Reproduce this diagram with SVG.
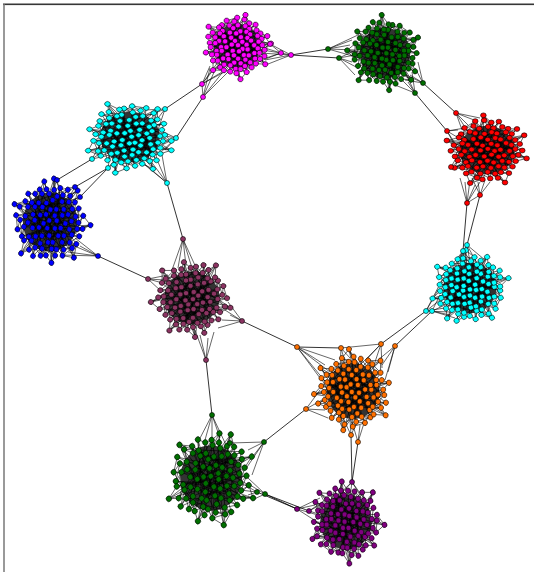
<svg xmlns="http://www.w3.org/2000/svg" xmlns:xlink="http://www.w3.org/1999/xlink" width="534" height="572" viewBox="0 0 534 572">
<style>
.nd circle{r:var(--r,2.5px);stroke:#000;stroke-width:0.6;vector-effect:non-scaling-stroke}
.ie{fill:none;stroke:#000;stroke-width:0.6;vector-effect:non-scaling-stroke}
.dk{fill:#333}
.bn{stroke:#000;stroke-width:0.6}
.ce{fill:none;stroke:#000;stroke-width:0.8}
.fan{fill:none;stroke:#000;stroke-width:0.6}
</style>
<defs>
<g id="blob">
<circle class="dk" r="23"/>
<path class="ie" d="M-9.8,-27.5 L11.2,-0.3 -27,17 15.7,-16.9 -3.8,28 -27.6,-4.6 17.6,-20.2 0.4,10.2 -30.2,0.8 25,-20 -8.6,16.8 9.9,-27 -14.6,6.5 31,-14 -12.9,20.8 -5.2,-12 33,8 -11.2,-22.8 9.6,15.5 -26.7,6.2 -2.1,-15.4 9.1,26.6 -23.5,-0.9 18.8,-11.6 6.8,22.6 -14.3,-17.3 26.2,4.7 -8.4,-6 15,31 -23.4,-11.9 18.2,11.3 3.6,-26.2 -5.4,0.4 21.3,15.8 -33.5,-9 15.9,-6.6 -8.3,26.4 0.9,-22.1 21.5,6 -20.5,-6.3 -20.5,16.9 11.3,-10.1 -3,-33 -2.3,6.1 -21.6,-15.1 18.3,22 8.6,-4.5 -17.5,11.7 -2.4,-28.3 29.4,0.5 -11.4,-10.5 3.2,17.1 6.3,1 -14,31.5 12.8,-21.9 -12.8,-0.5 23.9,10.6 3.9,-17 -21.4,4.6 5.5,11.9 20.6,-15.3 -17.4,22.3 3.5,-5.9 -24.3,10 -18.7,-21 9.7,6.4 20.4,-4.8 -5.8,11.5 -9.8,-16 0.6,21 23.6,-1 -15.8,-4.9 2.7,27.1 6.9,-11.4 -3.4,15.6 -18.9,-9.7 14.4,5.1 5.4,-20.8 0.7,-1.1 14.5,16.7 23.5,-9.5 -9.5,4.8 -6.5,-20.4 12.7,10.4 -18.6,1.2 8.2,-15.8 11.6,21.2 -3.7,-4.2 -12.6,9.9 27.3,-5.7 M-9.8,-27.5 L-6.5,-20.4 -2.4,-28.3 0.9,-22.1 3.6,-26.2 5.4,-20.8 9.9,-27 12.8,-21.9 17.6,-20.2 15.7,-16.9 20.6,-15.3 18.8,-11.6 23.5,-9.5 20.4,-4.8 27.3,-5.7 23.6,-1 29.4,0.5 21.5,6 26.2,4.7 18.2,11.3 23.9,10.6 14.5,16.7 21.3,15.8 11.6,21.2 18.3,22 6.8,22.6 9.1,26.6 0.6,21 2.7,27.1 -5.5,22.5 -3.8,28 -12.9,20.8 -8.3,26.4 -17.4,22.3 -15.8,15.4 -20.5,16.9 -17.5,11.7 -24.3,10 -21.4,4.6 -26.7,6.2 -23.5,-0.9 -30.2,0.8 -20.5,-6.3 -27.6,-4.6 -18.9,-9.7 -23.4,-11.9 -14.3,-17.3 -21.6,-15.1 -11.2,-22.8 -18.7,-21 -9.8,-27.5 M-3,-33 L-2.4,-28.3 M-3,-33 L3.6,-26.2 M-3,-33 L-6.5,-20.4 M25,-20 L17.6,-20.2 M25,-20 L20.6,-15.3 M31,-14 L23.5,-9.5 M31,-14 L27.3,-5.7 M31,-14 L18.8,-11.6 M33,8 L26.2,4.7 M33,8 L23.9,10.6 M33,8 L21.5,6 M15,31 L9.1,26.6 M15,31 L18.3,22 M15,31 L6.8,22.6 M-14,31.5 L-8.3,26.4 M-14,31.5 L-3.8,28 M-14,31.5 L-17.4,22.3 M-27,17 L-20.5,16.9 M-27,17 L-24.3,10 M-27,17 L-17.5,11.7 M-33.5,-9 L-27.6,-4.6 M-33.5,-9 L-23.4,-11.9 M-33.5,-9 L-20.5,-6.3"/>
<g class="nd">
<circle cx="-9.8" cy="-27.5"/><circle cx="-2.4" cy="-28.3"/><circle cx="3.6" cy="-26.2"/><circle cx="9.9" cy="-27"/>
<circle cx="-18.7" cy="-21"/><circle cx="-11.2" cy="-22.8"/><circle cx="-6.5" cy="-20.4"/><circle cx="0.9" cy="-22.1"/><circle cx="5.4" cy="-20.8"/><circle cx="12.8" cy="-21.9"/><circle cx="17.6" cy="-20.2"/>
<circle cx="-21.6" cy="-15.1"/><circle cx="-14.3" cy="-17.3"/><circle cx="-9.8" cy="-16"/><circle cx="-2.1" cy="-15.4"/><circle cx="3.9" cy="-17"/><circle cx="8.2" cy="-15.8"/><circle cx="15.7" cy="-16.9"/><circle cx="20.6" cy="-15.3"/>
<circle cx="-23.4" cy="-11.9"/><circle cx="-18.9" cy="-9.7"/><circle cx="-11.4" cy="-10.5"/><circle cx="-5.2" cy="-12"/><circle cx="0.6" cy="-9.9"/><circle cx="6.9" cy="-11.4"/><circle cx="11.3" cy="-10.1"/><circle cx="18.8" cy="-11.6"/><circle cx="23.5" cy="-9.5"/>
<circle cx="-27.6" cy="-4.6"/><circle cx="-20.5" cy="-6.3"/><circle cx="-15.8" cy="-4.9"/><circle cx="-8.4" cy="-6"/><circle cx="-3.7" cy="-4.2"/><circle cx="3.5" cy="-5.9"/><circle cx="8.6" cy="-4.5"/><circle cx="15.9" cy="-6.6"/><circle cx="20.4" cy="-4.8"/><circle cx="27.3" cy="-5.7"/>
<circle cx="-30.2" cy="0.8"/><circle cx="-23.5" cy="-0.9"/><circle cx="-18.6" cy="1.2"/><circle cx="-12.8" cy="-0.5"/><circle cx="-5.4" cy="0.4"/><circle cx="0.7" cy="-1.1"/><circle cx="6.3" cy="1"/><circle cx="11.2" cy="-0.3"/><circle cx="18.9" cy="0.9"/><circle cx="23.6" cy="-1"/><circle cx="29.4" cy="0.5"/>
<circle cx="-26.7" cy="6.2"/><circle cx="-21.4" cy="4.6"/><circle cx="-14.6" cy="6.5"/><circle cx="-9.5" cy="4.8"/><circle cx="-2.3" cy="6.1"/><circle cx="3.8" cy="4.4"/><circle cx="9.7" cy="6.4"/><circle cx="14.4" cy="5.1"/><circle cx="21.5" cy="6"/><circle cx="26.2" cy="4.7"/>
<circle cx="-24.3" cy="10"/><circle cx="-17.5" cy="11.7"/><circle cx="-12.6" cy="9.9"/><circle cx="-5.8" cy="11.5"/><circle cx="0.4" cy="10.2"/><circle cx="5.5" cy="11.9"/><circle cx="12.7" cy="10.4"/><circle cx="18.2" cy="11.3"/><circle cx="23.9" cy="10.6"/>
<circle cx="-20.5" cy="16.9"/><circle cx="-15.8" cy="15.4"/><circle cx="-8.6" cy="16.8"/><circle cx="-3.4" cy="15.6"/><circle cx="3.2" cy="17.1"/><circle cx="9.6" cy="15.5"/><circle cx="14.5" cy="16.7"/><circle cx="21.3" cy="15.8"/>
<circle cx="-17.4" cy="22.3"/><circle cx="-12.9" cy="20.8"/><circle cx="-5.5" cy="22.5"/><circle cx="0.6" cy="21"/><circle cx="6.8" cy="22.6"/><circle cx="11.6" cy="21.2"/><circle cx="18.3" cy="22"/>
<circle cx="-8.3" cy="26.4"/><circle cx="-3.8" cy="28"/><circle cx="2.7" cy="27.1"/><circle cx="9.1" cy="26.6"/>
<circle cx="-33.5" cy="-9"/><circle cx="33" cy="8"/><circle cx="-14" cy="31.5"/><circle cx="25" cy="-20"/><circle cx="-27" cy="17"/><circle cx="15" cy="31"/><circle cx="-3" cy="-33"/><circle cx="31" cy="-14"/>
</g>
</g>
</defs>
<rect width="534" height="572" fill="#fff"/>
<path d="M3,3.5 H534" stroke="#999" stroke-width="1"/>
<path d="M3,4.6 H534" stroke="#222" stroke-width="1"/>
<path d="M4,4 V572" stroke="#777" stroke-width="1.5"/>

<g id="connectors">
<path class="ce" d="M291,55 L328,49 M291,55 L339,58 M202,84 L165,109 M203,97 L176,138 M423,83 L456,113 M415,93 L447,131 M467,203 L463,251 M480,195 L467,245 M426,311 L381,344 M432,311 L395,346 M242,321 L297,347 M297,347 L341,348 M306,409 L264,442 M351,435 L352,482 M358,442 L352,482 M257,492 L297,509 M265,494 L297,509 M265,494 L309,511 M206,360 L212,415 M167,183 L183,239 M148,279 L98,256 M57,180 L92,159 M75,187 L108,168 M80,197 L108,168"/>
<path class="fan" d="M270,44 L258,40 M270,44 L262,50 M270,44 L255,55 M270,44 L264,35 M281,53 L262,50 M281,53 L266,58 M281,53 L258,62 M281,53 L255,45 M281,53 L270,44 M291,55 L265,60 M291,55 L260,53 M291,55 L270,44 M291,55 L281,53 M291,55 L263,66 M202,84 L215,68 M202,84 L222,72 M202,84 L210,66 M202,84 L228,70 M202,84 L218,62 M203,97 L215,70 M203,97 L222,73 M203,97 L230,70 M203,97 L210,68 M203,97 L202,84"/>
<path class="fan" d="M328,49 L352,40 M328,49 L355,50 M328,49 L358,35 M328,49 L350,45 M328,49 L360,58 M339,58 L355,55 M339,58 L352,62 M339,58 L358,68 M339,58 L360,48 M339,58 L355,75 M415,93 L400,78 M415,93 L408,82 M415,93 L395,85 M415,93 L412,72 M415,93 L404,70 M423,83 L410,75 M423,83 L415,68 M423,83 L405,80 M423,83 L418,62 M423,83 L400,72"/>
<path class="fan" d="M456,113 L468,125 M456,113 L474,120 M456,113 L462,130 M456,113 L480,118 M456,113 L470,135 M447,131 L458,130 M447,131 L462,140 M447,131 L456,145 M447,131 L465,128 M447,131 L460,155 M451,167 L460,160 M451,167 L465,165 M451,167 L458,155 M451,167 L470,170 M467,203 L470,180 M467,203 L475,185 M467,203 L465,182 M467,203 L480,182 M467,203 L460,178 M480,195 L485,180 M480,195 L478,182 M480,195 L490,182 M480,195 L472,178 M480,195 L467,203"/>
<path class="fan" d="M467,245 L470,262 M467,245 L460,262 M467,245 L478,265 M467,245 L455,268 M467,245 L485,260 M463,251 L455,265 M463,251 L465,268 M463,251 L448,270 M463,251 L472,262 M426,311 L440,300 M426,311 L445,308 M426,311 L438,290 M426,311 L450,312 M426,311 L442,280 M432,311 L445,305 M432,311 L450,315 M432,311 L440,295 M432,311 L455,318"/>
<path class="fan" d="M297,347 L325,365 M297,347 L330,372 M297,347 L320,378 M297,347 L335,360 M297,347 L328,385 M341,348 L345,362 M341,348 L340,370 M341,348 L350,358 M381,344 L375,362 M381,344 L368,358 M381,344 L382,368 M381,344 L360,365 M381,344 L341,348 M395,346 L382,365 M395,346 L378,360 M395,346 L388,372 M395,346 L385,380 M306,409 L322,400 M306,409 L325,410 M306,409 L320,390 M306,409 L328,418 M351,435 L350,420 M351,435 L343,418 M351,435 L357,422 M358,442 L360,425 M358,442 L352,422 M358,442 L365,420"/>
<path class="fan" d="M352,482 L340,495 M352,482 L350,497 M352,482 L360,495 M352,482 L333,500 M352,482 L365,500 M297,509 L315,505 M297,509 L318,515 M297,509 L320,498 M297,509 L322,525 M309,511 L320,505 M309,511 L322,515 M309,511 L325,500"/>
<path class="fan" d="M212,415 L205,440 M212,415 L212,442 M212,415 L220,438 M212,415 L198,442 M212,415 L226,445 M264,442 L248,450 M264,442 L250,460 M264,442 L245,470 M264,442 L230,443 M264,442 L252,475 M257,492 L245,485 M257,492 L248,495 M257,492 L240,490 M265,494 L250,485 M265,494 L248,478 M265,494 L252,500"/>
<path class="fan" d="M183,239 L178,268 M183,239 L186,266 M183,239 L192,268 M183,239 L198,272 M183,239 L172,270 M148,279 L165,280 M148,279 L170,285 M148,279 L162,292 M148,279 L168,275 M242,321 L225,310 M242,321 L222,320 M242,321 L228,302 M242,321 L218,328 M242,321 L230,315 M206,360 L200,335 M206,360 L208,338 M206,360 L214,332 M206,360 L195,330"/>
<path class="fan" d="M75,187 L62,195 M75,187 L66,202 M75,187 L58,190 M80,197 L66,202 M80,197 L70,208 M80,197 L62,205 M57,180 L52,192 M57,180 L60,195 M98,256 L72,245 M98,256 L68,252 M98,256 L75,238 M98,256 L60,255 M98,256 L80,246"/>
<path class="fan" d="M165,109 L150,115 M165,109 L155,122 M165,109 L145,110 M165,109 L158,130 M176,138 L160,135 M176,138 L162,145 M176,138 L155,128 M176,138 L165,150 M176,138 L158,155 M167,183 L150,160 M167,183 L158,162 M167,183 L145,165 M167,183 L162,155 M167,183 L140,160 M92,159 L105,150 M92,159 L110,155 M92,159 L100,145 M108,168 L115,160 M108,168 L120,158 M108,168 L110,155"/>
</g>

<g id="cluster-magenta" fill="#ff00ff">
<use xlink:href="#blob" transform="translate(237 46) scale(1 0.97) rotate(20)" style="--r:2.64px"/>
<circle class="bn" cx="270" cy="44" r="2.5"/><circle class="bn" cx="281" cy="53" r="2.5"/><circle class="bn" cx="291" cy="55" r="2.5"/><circle class="bn" cx="202" cy="84" r="2.5"/><circle class="bn" cx="203" cy="97" r="2.5"/>
</g>
<g id="cluster-green-top" fill="#006f00">
<use xlink:href="#blob" transform="translate(385 53) scale(1.1) rotate(70)" style="--r:2.36px"/>
<circle class="bn" cx="328" cy="49" r="2.5"/><circle class="bn" cx="339" cy="58" r="2.5"/><circle class="bn" cx="415" cy="93" r="2.5"/><circle class="bn" cx="423" cy="83" r="2.5"/>
</g>
<g id="cluster-red" fill="#ff0000">
<use xlink:href="#blob" transform="translate(487 150) scale(1.2 1.05)" style="--r:2.32px"/>
<circle class="bn" cx="456" cy="113" r="2.5"/><circle class="bn" cx="447" cy="131" r="2.5"/><circle class="bn" cx="451" cy="167" r="2.5"/><circle class="bn" cx="467" cy="203" r="2.5"/><circle class="bn" cx="480" cy="195" r="2.5"/>
</g>
<g id="cluster-cyan-right" fill="#00ffff">
<use xlink:href="#blob" transform="translate(470 288) scale(1.15 1.1) rotate(150)" style="--r:2.31px"/>
<circle class="bn" cx="467" cy="245" r="2.5"/><circle class="bn" cx="463" cy="251" r="2.5"/><circle class="bn" cx="426" cy="311" r="2.5"/><circle class="bn" cx="432" cy="311" r="2.5"/>
</g>
<g id="cluster-orange" fill="#ff7000">
<use xlink:href="#blob" transform="translate(353 391) scale(1.15 1.22) rotate(200)" style="--r:2.19px"/>
<circle class="bn" cx="297" cy="347" r="2.5"/><circle class="bn" cx="341" cy="348" r="2.5"/><circle class="bn" cx="381" cy="344" r="2.5"/><circle class="bn" cx="395" cy="346" r="2.5"/><circle class="bn" cx="306" cy="409" r="2.5"/><circle class="bn" cx="351" cy="435" r="2.5"/><circle class="bn" cx="358" cy="442" r="2.5"/>
</g>
<g id="cluster-purple" fill="#800080">
<use xlink:href="#blob" transform="translate(346 522) scale(1.12 1.2) rotate(250)" style="--r:2.24px"/>
<circle class="bn" cx="352" cy="482" r="2.5"/><circle class="bn" cx="297" cy="509" r="2.5"/><circle class="bn" cx="309" cy="511" r="2.5"/>
</g>
<g id="cluster-green-bottom" fill="#006f00">
<use xlink:href="#blob" transform="translate(211 478) scale(1.34 1.42) rotate(320)" style="--r:2.0px"/>
<circle class="bn" cx="212" cy="415" r="2.5"/><circle class="bn" cx="230" cy="443" r="2.5"/><circle class="bn" cx="264" cy="442" r="2.5"/><circle class="bn" cx="257" cy="492" r="2.5"/><circle class="bn" cx="265" cy="494" r="2.5"/>
</g>
<g id="cluster-maroon" fill="#8b3462">
<use xlink:href="#blob" transform="translate(192 298) scale(1.2 1.15) rotate(110)" style="--r:2.21px"/>
<circle class="bn" cx="183" cy="239" r="2.5"/><circle class="bn" cx="148" cy="279" r="2.5"/><circle class="bn" cx="242" cy="321" r="2.5"/><circle class="bn" cx="206" cy="360" r="2.5"/>
</g>
<g id="cluster-blue" fill="#0000ff">
<use xlink:href="#blob" transform="translate(50 222) scale(1.18 1.28) rotate(300)" style="--r:2.11px"/>
<circle class="bn" cx="57" cy="180" r="2.5"/><circle class="bn" cx="75" cy="187" r="2.5"/><circle class="bn" cx="80" cy="197" r="2.5"/><circle class="bn" cx="98" cy="256" r="2.5"/>
</g>
<g id="cluster-cyan-left" fill="#00ffff">
<use xlink:href="#blob" transform="translate(130 137) scale(1.3 1.1) rotate(45)" style="--r:2.17px"/>
<circle class="bn" cx="165" cy="109" r="2.5"/><circle class="bn" cx="176" cy="138" r="2.5"/><circle class="bn" cx="167" cy="183" r="2.5"/><circle class="bn" cx="92" cy="159" r="2.5"/><circle class="bn" cx="108" cy="168" r="2.5"/>
</g>
</svg>
